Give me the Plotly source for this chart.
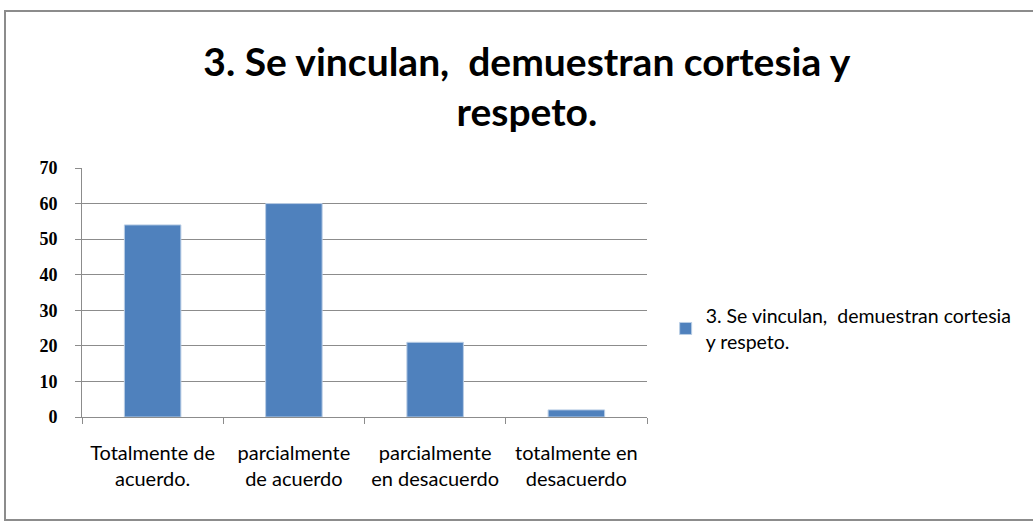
import plotly.graph_objects as go

categories = ["Totalmente de<br>acuerdo.", "parcialmente<br>de acuerdo", "parcialmente<br>en desacuerdo", "totalmente en<br>desacuerdo"]
values = [54, 60, 21, 2]
series_name = "3. Se vinculan, \u00a0demuestran cortesia<br>y respeto."
title_text = "3. Se vinculan, \u00a0demuestran cortesia y<br>respeto."
y_ticks = [0, 10, 20, 30, 40, 50, 60, 70]

fig = go.Figure()
fig.add_trace(go.Bar(
    x=categories, y=values, name=series_name,
    marker=dict(color="#4F81BD", line=dict(color="#B9CDE5", width=1)),
    showlegend=True,
))

fig.update_layout(
    width=1033, height=525,
    margin=dict(l=82, r=386, t=168, b=108),
    paper_bgcolor="white", plot_bgcolor="white",
    bargap=0.6,
    title=dict(text=title_text, x=0.51, xanchor="center", y=0.856, yanchor="middle",
               yref="container",
               font=dict(family="Lato", size=39, color="black", weight="bold")),
    legend=dict(x=1.033, xanchor="left", y=0.355, yanchor="middle",
                font=dict(family="Lato", size=19.5, color="black"),
                bgcolor="rgba(0,0,0,0)"),
    showlegend=True,
    font=dict(family="Lato", color="black"),
)
fig.update_xaxes(
    showline=True, linecolor="#8C8C8C", linewidth=1,
    ticks="outside", ticklen=6, tickcolor="#8C8C8C", tickson="boundaries",
    tickfont=dict(family="Lato", size=20, color="black"),
    ticklabelstandoff=18,
    showgrid=False,
)
fig.update_yaxes(
    range=[0, 70], tickvals=y_ticks, showline=True, linecolor="#8C8C8C", linewidth=1,
    ticks="outside", ticklen=6, tickcolor="#8C8C8C",
    showgrid=True, gridcolor="#8C8C8C", gridwidth=1,
    tickfont=dict(family="Liberation Serif", size=18, color="black", weight="bold"),
    ticklabelstandoff=14,
    zeroline=False,
)
fig.add_shape(type="rect", xref="paper", yref="paper",
              x0=-77/565, x1=1.8, y0=-(520-417)/249, y1=(417-11)/249,
              line=dict(color="#8C8C8C", width=2), fillcolor="rgba(0,0,0,0)", layer="below")
fig.write_html("out.html", config={"displayModeBar": False},
               post_script="document.body.style.margin='0';document.body.style.overflow='hidden';")
